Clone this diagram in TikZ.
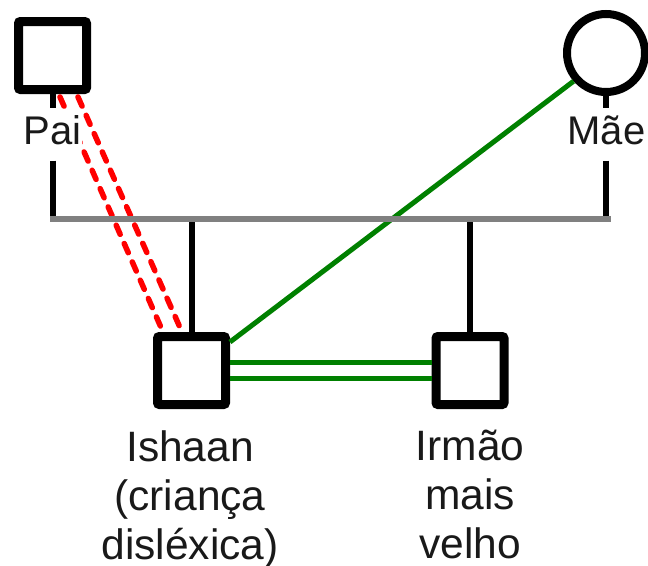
\documentclass[tikz,border=0pt]{standalone}
\usepackage{fontspec}
\setmainfont{Liberation Sans}
\begin{document}
\begin{tikzpicture}[x=1pt,y=-1pt,
  male/.style={draw=black, line width=9pt, rounded corners=2pt, minimum size=68pt, inner sep=0pt, fill=white},
  female/.style={draw=black, circle, line width=8pt, minimum size=78pt, inner sep=0pt, fill=white},
  lab/.style={font=\fontsize{42.5}{49}\selectfont, text=black!90, align=center, inner sep=0pt, anchor=north},
  namelab/.style={font=\fontsize{40}{48}\selectfont, text=black!90, fill=white, inner xsep=1pt, inner ysep=4pt, anchor=base},
  stem/.style={draw=black, line width=6pt},
  marriage/.style={draw=black!50, line width=6pt},
  close/.style={draw=green!50!black, line width=5pt},
  conflict/.style={draw=red, line width=5.5pt, dash pattern=on 10pt off 10pt, line cap=round}
]
\useasboundingbox (0,0) rectangle (648,565);
\coordinate (gl) at (50,219);
\coordinate (gr) at (611,219);
% parents
\node[male] (pai) at (52.5,55.5) {};
\node[female] (mae) at (606,53) {};
% children
\node[male] (ishaan) at (191.5,370.5) {};
\node[male] (irmao) at (470,370.5) {};
% relationship lines
\draw[close] (mae.221) -- ([yshift=-10pt]ishaan.north east);
\draw[close] ([yshift=8pt]ishaan.east) -- ([yshift=8pt]irmao.west);
\draw[close] ([yshift=-8pt]ishaan.east) -- ([yshift=-8pt]irmao.west);
\draw[conflict] ([xshift=7.5pt,yshift=-3pt]pai.south) -- ([xshift=-28.5pt]ishaan.north);
\draw[conflict] ([xshift=25.5pt,yshift=-3pt]pai.south) -- ([xshift=-9.5pt]ishaan.north);
% name labels
\node[namelab] (pail) at (52.5,144) {Pai};
\node[namelab] (mael) at (606.5,144) {Mãe};
% stems
\draw[stem] (pai.south) -- ([yshift=3pt]pai.south |- pail.north);
\draw[stem] ([yshift=-12pt]pai.south |- pail.south) -- (pai.south |- gl);
\draw[stem] (mae.south) -- ([yshift=3pt]mae.south |- mael.north);
\draw[stem] ([yshift=-12pt]mae.south |- mael.south) -- (mae.south |- gr);
\draw[stem] (ishaan.north |- gl) -- (ishaan.north);
\draw[stem] (irmao.north |- gl) -- (irmao.north);
\draw[marriage] (gl) -- (gr);
% child labels
\node[lab] (ishaanl) at (190,430) {Ishaan\\(criança\\disléxica)};
\node[lab] (irmaol) at (470,430) {Irmão\\mais\\velho};
\end{tikzpicture}
\end{document}
